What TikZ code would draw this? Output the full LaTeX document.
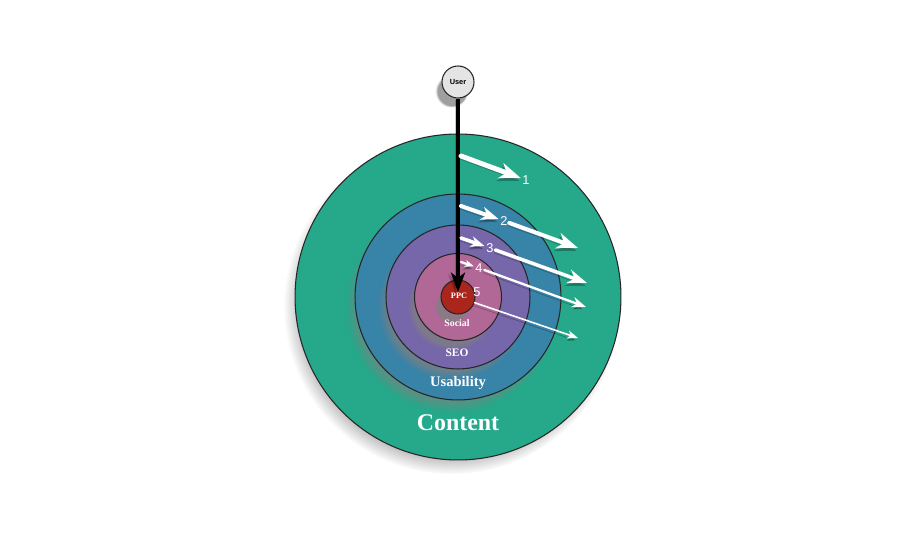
\documentclass[tikz,border=0pt]{standalone}
\usepackage{fontspec}
\setmainfont{Liberation Serif}
\newfontfamily\arialf{Liberation Sans}
\usetikzlibrary{shadows,arrows.meta}
\definecolor{cgreen}{RGB}{38,168,138}
\definecolor{cblue}{RGB}{56,131,168}
\definecolor{cpurple}{RGB}{118,102,170}
\definecolor{cpink}{RGB}{178,104,150}
\definecolor{cred}{RGB}{170,38,28}
\definecolor{cuser}{RGB}{228,228,228}
\tikzset{
  ring/.style={circle, draw=black!85, line width=0.6pt, inner sep=0pt},
  shad/.style={circular drop shadow={shadow xshift=-3.5pt, shadow yshift=-5pt, opacity=0.75, shadow scale=1.03}},
  lbl/.style={text=white, font=\bfseries, inner sep=0pt},
  num/.style={text=white, font=\arialf\fontsize{7.3}{8}\selectfont, inner sep=0.8pt},
  warrow/.style={draw=white, line cap=round,
     preaction={draw=black, opacity=0.25, transform canvas={xshift=-0.8pt, yshift=-1.6pt}}},
}
\begin{document}
\begin{tikzpicture}[x=0.02cm, y=-0.02cm]
\useasboundingbox[fill=white] (0,0) rectangle (900,540);
% rings
\node[ring, shad, fill=cgreen, minimum size=6.52cm] (content) at (458,297) {};
\node[ring, shad, fill=cblue, minimum size=4.12cm] (usab) at (458,297) {};
\node[ring, shad, fill=cpurple, minimum size=2.88cm] (seo) at (458,297) {};
\node[ring, shad, fill=cpink, minimum size=1.74cm] (social) at (458,297) {};
\node[ring, shad, fill=cred, minimum size=0.68cm] (ppc) at (458,297) {};
% labels
\node[lbl, font=\bfseries\fontsize{4.7}{5}\selectfont] (ppcl) at (459,296) {PPC};
\node[lbl, font=\bfseries\fontsize{5.6}{6}\selectfont] (sociall) at (457,323) {Social};
\node[lbl, font=\bfseries\fontsize{6.5}{7}\selectfont] (seol) at (457,353) {SEO};
\node[lbl, font=\bfseries\fontsize{8.3}{9}\selectfont] (usabl) at (458,383) {Usability};
\node[lbl, font=\bfseries\fontsize{13.6}{15}\selectfont] (contentl) at (458,423) {Content};
% user
\node[ring, shad, fill=cuser, minimum size=0.64cm, font=\arialf\bfseries\fontsize{4.2}{5}\selectfont] (user) at (458,82) {User};
% number labels
\node[num] (l1) at (526,180) {1};
\node[num] (l2) at (504,221) {2};
\node[num] (l3) at (490,248) {3};
\node[num] (l4) at (479,268) {4};
\node[num] (l5) at (477,292) {5};
% arrow start / end points
\coordinate (s1) at (461,156);
\coordinate (s2) at (461,206);
\coordinate (s3) at (461,238);
\coordinate (s4) at (461,262);
\coordinate (e2) at (578,248);
\coordinate (e3) at (587,283);
\coordinate (e4) at (586,307);
\coordinate (e5) at (578,338);
% user arrow
\draw[line width=2.3pt, -{Stealth[length=11pt, width=8pt, inset=3pt]}, shorten >=0.1cm,
      preaction={draw=black, opacity=0.2, transform canvas={xshift=-1.5pt, yshift=-1pt}}]
  (user) -- (ppc.center);
% white arrows
\draw[warrow, line width=2.8pt, -{Stealth[length=12pt, width=9pt, inset=3.5pt]}] (s1) -- (l1);
\draw[warrow, line width=2.3pt, -{Stealth[length=10pt, width=7.5pt, inset=3pt]}] (s2) -- (l2);
\draw[warrow, line width=2.3pt, -{Stealth[length=12pt, width=9pt, inset=3.5pt]}] (l2) -- (e2);
\draw[warrow, line width=2pt, -{Stealth[length=8pt, width=6pt, inset=2.5pt]}] (s3) -- (l3);
\draw[warrow, line width=2pt, -{Stealth[length=11pt, width=8pt, inset=3.5pt]}] (l3) -- (e3);
\draw[warrow, line width=1.3pt, -{Stealth[length=5pt, width=4pt, inset=1.5pt]}] (s4) -- (l4);
\draw[warrow, line width=1.3pt, -{Stealth[length=8pt, width=6pt, inset=2.5pt]}] (l4) -- (e4);
\draw[warrow, line width=0.9pt, -{Stealth[length=6pt, width=4.5pt, inset=1.5pt]}] (ppc) -- (e5);
\end{tikzpicture}
\end{document}
